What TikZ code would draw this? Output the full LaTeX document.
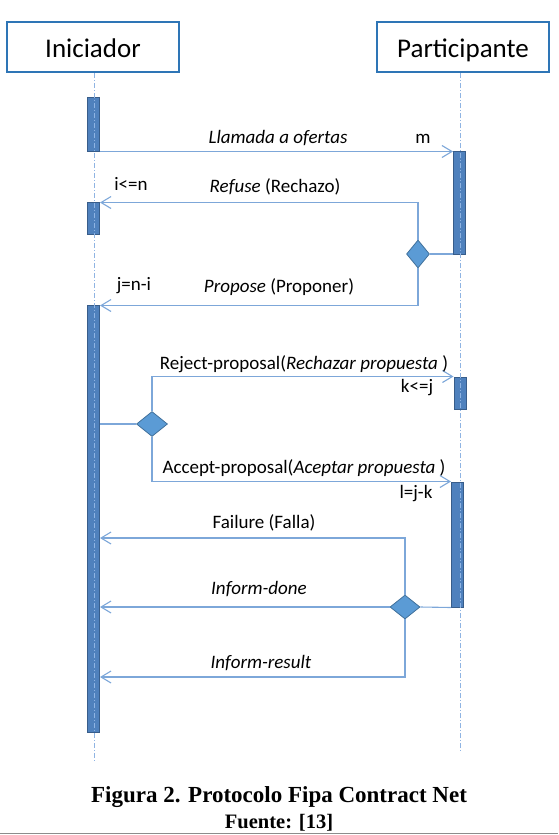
\documentclass[tikz,border=0pt]{standalone}
\usepackage{fontspec}
\setmainfont{Carlito}
\newfontfamily\capfont{Liberation Serif}
\usetikzlibrary{arrows.meta,shapes.geometric,calc}
\definecolor{boxblue}{HTML}{2E75B6}
\definecolor{barfill}{HTML}{4F81BD}
\definecolor{bardraw}{HTML}{385D8A}
\definecolor{diafill}{HTML}{5B9BD5}
\definecolor{diadraw}{HTML}{41719C}
\definecolor{msgcol}{HTML}{7DA7D9}
\definecolor{lifecol}{HTML}{8FB4E3}
\begin{document}
\begin{tikzpicture}[x=1pt,y=-1pt,
 actor/.style={draw=boxblue,line width=2pt,fill=white,minimum width=172pt,minimum height=50pt,inner sep=0,
   font=\fontsize{27}{30}\selectfont,text height=22pt,text depth=2pt},
 bar/.style={rectangle,draw=bardraw,fill=barfill,line width=1pt,minimum width=12pt,inner sep=0},
 dia/.style={diamond,draw=diadraw,fill=diafill,line width=0.8pt,inner sep=0},
 msg/.style={draw=msgcol,line width=1.1pt,-{Straight Barb[length=10pt,width=12pt,line width=1.1pt]}},
 conn/.style={draw=msgcol,line width=1.1pt},
 life/.style={draw=lifecol,line width=0.9pt,dash pattern=on 5pt off 2pt on 1pt off 2pt},
 lbl/.style={anchor=base,font=\fontsize{19}{22}\selectfont,inner sep=0},
 captxt/.style={anchor=base,inner sep=0,text=black},
]
\useasboundingbox (0,0) rectangle (558,835);

% actors
\node[actor] (ini) at (93,47) {Iniciador};
\node[actor] (par) at (463,47) {Participante};

% activation bars
\node[bar,minimum height=54pt]  (b1) at (93.5,124) {};
\node[bar,minimum height=32pt]  (b2) at (93.5,218) {};
\node[bar,minimum height=427pt] (b3) at (93.5,518.5) {};
\node[bar,minimum height=103pt] (p1) at (459.5,202.5) {};
\node[bar,minimum height=32pt]  (p2) at (460,393) {};
\node[bar,minimum height=125pt] (p3) at (457.5,544.5) {};

% lifelines (drawn over the bars, as in the reference)
\coordinate (iend) at (94,761);
\coordinate (pend) at (460,752);
\draw[life] (iend |- ini.south) -- (iend);
\draw[life] (pend |- par.south) -- (pend);

% decision diamonds
\node[dia,minimum width=23pt,minimum height=28pt] (d1) at (418,254) {};
\node[dia,minimum width=31pt,minimum height=25pt] (d2) at (152,424) {};
\node[dia,minimum width=30pt,minimum height=24pt] (d3) at (405,607) {};

% messages
\draw[msg] (b1.south east) -- (b1.south east -| p1.west);
\draw[conn] (d1.east) -- (d1.east -| p1.west);
\draw[msg] (d1.north) |- ($(b2.north east)+(0,1)$);
\draw[msg] (d1.south) |- ($(b3.north east)+(0,1)$);

\draw[conn] (d2.west -| b3.east) -- (d2.west);
\draw[msg] (d2.north) |- (p2.north west);
\draw[msg] (d2.south) |- (p3.north west);

\draw[conn] (p3.south west) -- (d3.east);
\draw[msg] (d3.west) -- (d3.west -| b3.east);
\coordinate (fturn) at (405,538);
\coordinate (rturn) at (405,677);
\draw[msg] (d3.north) -- (fturn) -- (fturn -| b3.east);
\draw[msg] (d3.south) -- (rturn) -- (rturn -| b3.east);

% labels
\node[lbl] (t1)  at (278,143) {\textit{Llamada a ofertas}};
\node[lbl] (t2)  at (423,143) {m};
\node[lbl] (t3)  at (131,190) {i<=n};
\node[lbl] (t4)  at (275,192) {\textit{Refuse} (Rechazo)};
\node[lbl] (t5)  at (134,290) {j=n-i};
\node[lbl] (t6)  at (279,292) {\textit{Propose} (Proponer)};
\node[lbl] (t7)  at (304,369) {Reject-proposal(\textit{Rechazar propuesta} )};
\node[lbl] (t8)  at (417,392) {k<=j};
\node[lbl] (t9)  at (304,473) {Accept-proposal(\textit{Aceptar propuesta} )};
\node[lbl] (t10) at (416,498) {l=j-k};
\node[lbl] (t11) at (264,528) {Failure (Falla)};
\node[lbl] (t12) at (259,594) {\textit{Inform-done}};
\node[lbl] (t13) at (261,668) {\textit{Inform-result}};

% caption
\node[captxt,font=\capfont\bfseries\fontsize{23}{26}\selectfont] (c1) at (279,802) {Figura 2. Protocolo Fipa Contract Net};
\node[captxt,font=\capfont\bfseries\fontsize{20.5}{24}\selectfont] (c2) at (279,828) {Fuente: [13]};
\coordinate (bl) at (0,833.5);
\coordinate (br) at (558,833.5);
\draw[black!45,line width=1.5pt] (bl) -- (br);
\end{tikzpicture}
\end{document}
